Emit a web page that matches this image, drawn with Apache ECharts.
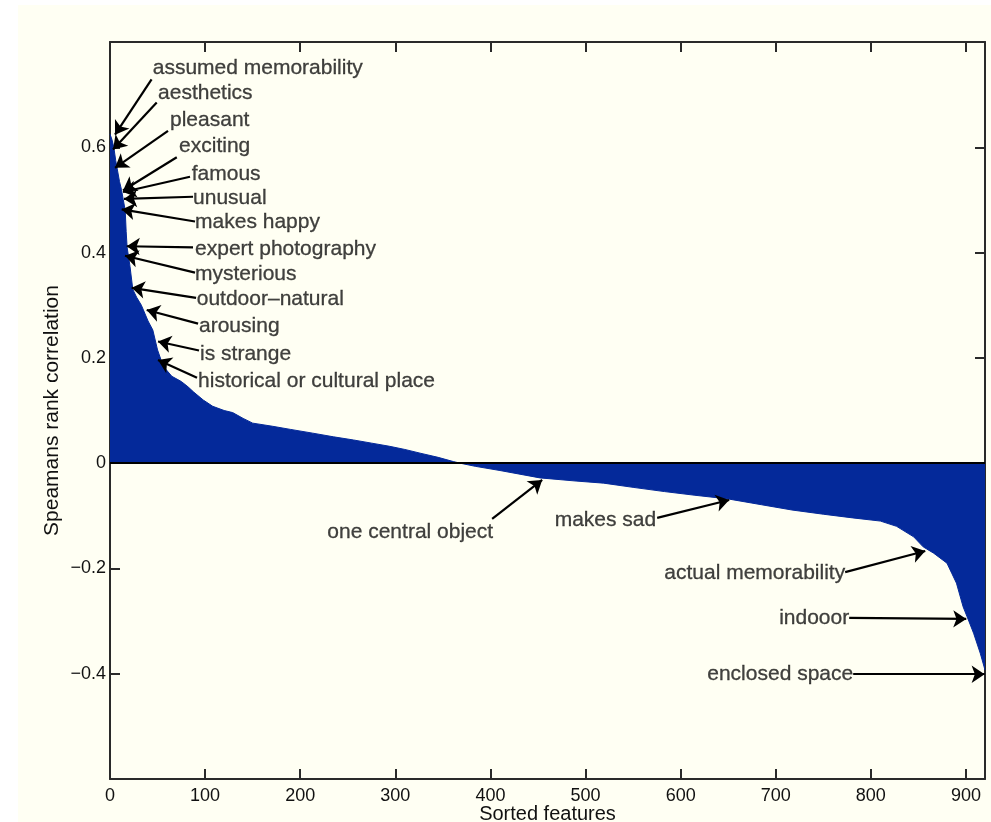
<!DOCTYPE html>
<html>
<head>
<meta charset="utf-8">
<script src="https://cdn.jsdelivr.net/npm/echarts@6/dist/echarts.min.js"></script>
<style>
html,body{margin:0;padding:0;background:#ffffff;}
#chart{width:991px;height:822px;}
</style>
</head>
<body>
<div id="chart"></div>
<script>
// sorted feature index and Spearman rank correlation
const featureIdx = [0,2,4,6,8,10,12,14,16,17,18,21,24,28,33,40,45,50,56,65,75,82,88,98,108,120,129,140,150,171,190,213,235,256,275,294,310,326,345,361,368,384,410,452,490,519,550,583,615,650,685,717,750,781,810,827,845,855,866,880,885,890,897,903,908,915,920];
const corrValues = [0.625,0.615,0.60,0.575,0.555,0.535,0.52,0.50,0.48,0.44,0.41,0.374,0.33,0.315,0.30,0.27,0.253,0.215,0.184,0.165,0.155,0.145,0.135,0.12,0.108,0.10,0.096,0.085,0.076,0.07,0.064,0.057,0.05,0.044,0.038,0.032,0.026,0.019,0.011,0.003,0.0,-0.006,-0.014,-0.028,-0.034,-0.038,-0.046,-0.054,-0.061,-0.068,-0.079,-0.089,-0.097,-0.104,-0.110,-0.120,-0.140,-0.159,-0.171,-0.190,-0.209,-0.228,-0.273,-0.30,-0.323,-0.361,-0.393];

const xTicks = [0,100,200,300,400,500,600,700,800,900];
const yTicks = [-0.4,-0.2,0,0.2,0.4,0.6];

// annotations: label, text anchor (data units), arrow tail, arrow tip
const leftNames = ['assumed memorability','aesthetics','pleasant','exciting','famous','unusual','makes happy','expert photography','mysterious','outdoor\u2013natural','arousing','is strange','historical or cultural place'];
const leftTextX = [44.9,50.5,63.1,72.6,85.9,87.3,89.4,89.4,89.4,91.2,93.6,94.7,92.6];
const leftTextY = [0.751,0.702,0.651,0.602,0.548,0.504,0.457,0.406,0.358,0.311,0.260,0.206,0.155];
const leftTailX = [43.7,49.1,61.0,70.2,84.1,87.3,89.4,87.3,89.4,90.5,92.6,93.6,91.5];
const leftTailY = [0.729,0.685,0.631,0.581,0.544,0.506,0.459,0.410,0.362,0.314,0.265,0.214,0.162];
const leftTipX  = [5.3,3.2,5.3,13.7,13.7,14.7,12.3,17.6,15.8,22.8,38.6,50.5,50.5];
const leftTipY  = [0.624,0.596,0.561,0.518,0.515,0.502,0.482,0.412,0.394,0.333,0.291,0.231,0.196];

const rightNames = ['one central object','makes sad','actual memorability','indooor','enclosed space'];
const rightTextX = [402.8,574.3,773.0,777.2,781.4];
const rightTextY = [-0.132,-0.108,-0.209,-0.294,-0.401];
const rightTailX = [401.8,575.3,773.0,777.2,781.4];
const rightTailY = [-0.106,-0.104,-0.207,-0.294,-0.401];
const rightTipX  = [454.4,651.0,857.2,900.3,919.6];
const rightTipY  = [-0.032,-0.070,-0.167,-0.296,-0.401];

const FONT = '"Liberation Sans", Arial, Helvetica, sans-serif';
const TXT = '#111111';
const AX = '#2a2a2a';

const areaData = featureIdx.map((x,i)=>[x,corrValues[i]]);
const leftData = leftNames.map((n,i)=>[leftTextX[i],leftTextY[i],n]);
const rightData = rightNames.map((n,i)=>[rightTextX[i],rightTextY[i],n]);
const arrowLines = [];
leftNames.forEach((n,i)=>arrowLines.push([{coord:[leftTailX[i],leftTailY[i]]},{coord:[leftTipX[i],leftTipY[i]]}]));
rightNames.forEach((n,i)=>arrowLines.push([{coord:[rightTailX[i],rightTailY[i]]},{coord:[rightTipX[i],rightTipY[i]]}]));

const fmtY = v => {
  const r = Math.round(v*10)/10;
  if (!yTicks.some(t=>Math.abs(t-r)<1e-9)) return '';
  if (r === 0) return '0';
  return (r<0?'\u2212':'') + Math.abs(r).toString();
};
const fmtX = v => xTicks.indexOf(Math.round(v))>=0 ? String(Math.round(v)) : '';

const labelText = {fontSize:21, color:TXT, fontFamily:FONT, textBorderColor:TXT, textBorderWidth:0.3};

const chart = echarts.init(document.getElementById('chart'));
const baseX = {type:'value', min:0, max:920, interval:100, splitLine:{show:false},
  axisLine:{show:true, onZero:false, lineStyle:{color:AX, width:2}},
  axisTick:{show:true, inside:true, length:10, lineStyle:{color:AX, width:2}}};
const baseY = {type:'value', min:-0.6, max:0.8, interval:0.2, splitLine:{show:false},
  axisLine:{show:true, onZero:false, lineStyle:{color:AX, width:2}},
  axisTick:{show:true, inside:true, length:10, lineStyle:{color:AX, width:2}}};

chart.setOption({
  animation:false,
  backgroundColor:'#fffff3',
  textStyle:{fontFamily:FONT},
  graphic:[
    {type:'rect', left:0, top:0, shape:{width:18, height:822}, style:{fill:'#ffffff'}, silent:true, z:-10},
    {type:'rect', left:0, top:0, shape:{width:991, height:5}, style:{fill:'#ffffff'}, silent:true, z:-10}
  ],
  grid:{left:110, top:42, right:6, bottom:43, containLabel:false, outerBoundsMode:'none'},
  xAxis:[
    Object.assign({}, baseX, {position:'bottom', name:'Sorted features', nameLocation:'middle', nameGap:25, nameMoveOverlap:false,
      nameTextStyle:{fontSize:20, color:TXT, fontFamily:FONT, verticalAlign:'top'},
      axisLabel:{formatter:fmtX, fontSize:18, color:TXT, margin:8, fontFamily:FONT}}),
    Object.assign({}, baseX, {position:'top', axisLabel:{show:false}})
  ],
  yAxis:[
    Object.assign({}, baseY, {position:'left', name:'Speamans rank correlation', nameLocation:'middle', nameGap:47, nameRotate:90, nameMoveOverlap:false,
      nameTextStyle:{fontSize:21, color:TXT, fontFamily:FONT},
      axisLabel:{formatter:fmtY, fontSize:18, color:TXT, margin:4, fontFamily:FONT}}),
    Object.assign({}, baseY, {position:'right', axisLabel:{show:false}})
  ],
  series:[
    {type:'line', name:'correlation', data:areaData, symbol:'none', silent:true,
      lineStyle:{color:'#04299a', width:1}, areaStyle:{color:'#04299a', opacity:1},
      markLine:{silent:true, symbol:'none', label:{show:false},
        lineStyle:{color:'#000000', width:2, type:'solid'},
        data:[{yAxis:0}]}, z:2},
    {type:'scatter', name:'left labels', data:leftData, symbolSize:0, silent:true, z:5,
      label:Object.assign({show:true, position:'right', distance:0, formatter:p=>p.value[2]}, labelText),
      markLine:{silent:true, symbol:['none','arrow'], symbolSize:13, label:{show:false},
        lineStyle:{color:'#000000', width:2.2, type:'solid'}, data:arrowLines}},
    {type:'scatter', name:'right labels', data:rightData, symbolSize:0, silent:true, z:5,
      label:Object.assign({show:true, position:'left', distance:0, formatter:p=>p.value[2]}, labelText)}
  ]
});
</script>
</body>
</html>
